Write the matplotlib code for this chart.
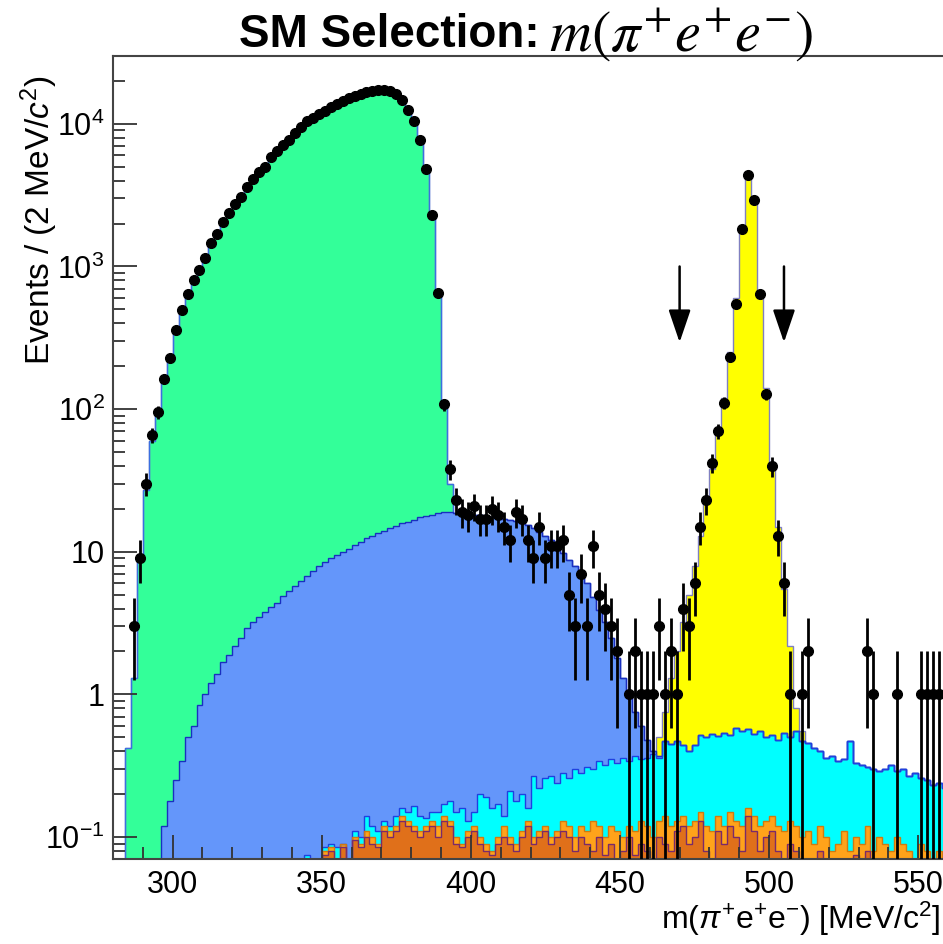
import numpy as np
import matplotlib
matplotlib.use("Agg")
import matplotlib.pyplot as plt
from matplotlib.ticker import MultipleLocator, LogLocator, FixedLocator, FixedFormatter

plt.rcParams['font.family'] = ['Liberation Sans', 'DejaVu Sans']
plt.rcParams['mathtext.fontset'] = 'custom'
plt.rcParams['mathtext.rm'] = 'Liberation Sans'
plt.rcParams['mathtext.it'] = 'Liberation Sans:italic'
plt.rcParams['mathtext.bf'] = 'Liberation Sans:bold'

# 2 MeV bins, 280..560
EDGES = np.arange(280, 562, 2)
CENTERS = EDGES[:-1] + 1

# data counts per bin (281, 283, ..., 559)
counts = [
    0, 0, 0, 3, 9, 30, 66, 95, 163, 230,
    361, 495, 640, 800, 950, 1150, 1455, 1690, 2035, 2390,
    2760, 3070, 3600, 4100, 4580, 4980, 5830, 6470, 7080, 7750,
    8650, 9570, 10400, 11000, 11700, 12400, 13100, 13800, 14500, 15100,
    15700, 16200, 16700, 17100, 17300, 17300, 17000, 16300, 14800, 12500,
    10400, 7700, 4800, 2300, 650, 108, 38, 23, 19, 18,
    21, 17, 17, 20, 18, 15, 12, 19, 17, 12,
    9, 15, 9, 11, 11, 12, 5, 3, 7, 3,
    11, 5, 4, 3, 2, 0, 1, 2, 1, 1,
    1, 3, 1, 2, 1, 4, 3, 6, 15, 23,
    42, 70, 111, 232, 542, 1835, 4400, 2940, 645, 127,
    40, 13, 6, 1, 0, 1, 2, 0, 0, 0,
    0, 0, 0, 0, 0, 0, 2, 1, 0, 0,
    0, 1, 0, 0, 0, 1, 1, 1, 1, 0,
]

# MC stack, cumulative heights (top of each layer)
green_from = 285
green_top = [
    0.42, 1.3, 9, 27, 60, 95, 160, 230,
    360, 490, 640, 800, 950, 1150, 1450, 1700, 2030, 2390,
    2750, 3080, 3600, 4100, 4580, 4990, 5800, 6450, 7100, 7750,
    8650, 9550, 10400, 11000, 11700, 12400, 13100, 13800, 14500, 15100,
    15700, 16200, 16700, 17100, 17300, 17300, 17000, 16300, 14800, 12500,
    10400, 7700, 4800, 2300, 650, 110, 30,
]

blue_from = 297
blue_top = [
    0.12, 0.18, 0.25, 0.34, 0.5, 0.6, 0.84,
    1.0, 1.2, 1.4, 1.7, 1.9, 2.2, 2.5, 2.9, 3.2, 3.5,
    3.8, 4.1, 4.4, 4.9, 5.3, 5.8, 6.2, 6.8, 7.3, 8.0,
    8.5, 9.0, 9.5, 10.0, 10.5, 11.2, 11.8, 12.5, 13.0, 13.5,
    14.0, 14.6, 15.2, 15.8, 16.3, 16.8, 17.4, 17.8, 18.2, 18.6,
    18.9, 19.0, 18.8, 18.6, 18.4, 18.2, 18.0, 17.8, 17.5, 17.2,
    17.0, 16.7, 16.4, 16.0, 15.3, 14.6, 13.8, 12.8, 12.0, 11.0,
    9.8, 8.8, 7.9, 7.0, 6.0, 4.8, 3.9, 3.2, 2.5, 1.8,
    1.3, 1.0, 0.75, 0.6, 0.48, 0.4, 0.37,
]

cyan_from = 345
cyan_top = [
    0.075, 0.0, 0.0, 0.085, 0.09, 0.085, 0.09, 0.0,
    0.11, 0.1, 0.14, 0.12, 0.11, 0.13, 0.12, 0.14, 0.16, 0.15,
    0.165, 0.14, 0.135, 0.15, 0.15, 0.17, 0.18, 0.15, 0.16, 0.13,
    0.15, 0.2, 0.19, 0.16, 0.17, 0.14, 0.21, 0.18, 0.2, 0.16,
    0.27, 0.22, 0.26, 0.27, 0.24, 0.28, 0.26, 0.3, 0.28, 0.31,
    0.3, 0.34, 0.32, 0.35, 0.33, 0.36, 0.34, 0.37, 0.35, 0.36,
    0.38, 0.36, 0.47, 0.45, 0.47, 0.44, 0.4, 0.44, 0.52, 0.5,
    0.53, 0.51, 0.54, 0.52, 0.58, 0.55, 0.57, 0.53, 0.55, 0.5,
    0.52, 0.48, 0.54, 0.5, 0.55, 0.47, 0.46, 0.42, 0.4, 0.36,
    0.37, 0.34, 0.35, 0.47, 0.33, 0.32, 0.31, 0.3, 0.29, 0.3,
    0.32, 0.29, 0.3, 0.27, 0.28, 0.26, 0.25, 0.23, 0.24, 0.22,
]

orange_from = 351
orange_light_top = [
    0.08, 0.085, 0.07, 0.09, 0.0,
    0.1, 0.09, 0.11, 0.1, 0.09, 0.12, 0.11, 0.12, 0.14, 0.13,
    0.12, 0.11, 0.12, 0.13, 0.12, 0.14, 0.13, 0.1, 0.09, 0.11,
    0.12, 0.1, 0.09, 0.08, 0.1, 0.12, 0.1, 0.09, 0.11, 0.13,
    0.1, 0.11, 0.12, 0.1, 0.11, 0.13, 0.12, 0.1, 0.12, 0.11,
    0.13, 0.12, 0.1, 0.12, 0.11, 0.1, 0.12, 0.11, 0.13, 0.12,
    0.1, 0.13, 0.14, 0.12, 0.13, 0.14, 0.12, 0.13, 0.15, 0.12,
    0.11, 0.14, 0.12, 0.15, 0.13, 0.12, 0.16, 0.14, 0.12, 0.13,
    0.14, 0.12, 0.11, 0.13, 0.12, 0.1, 0.11, 0.09, 0.12, 0.1,
    0.08, 0.09, 0.11, 0.08, 0.1, 0.09, 0.12, 0.08, 0.1, 0.09,
    0.08, 0.1, 0.09, 0.08, 0.07, 0.09, 0.08, 0.07, 0.08, 0.07,
]
orange_dark_top = [
    0.075, 0.08, 0.0, 0.085, 0.0,
    0.095, 0.085, 0.1, 0.09, 0.085, 0.11, 0.1, 0.11, 0.13, 0.12,
    0.11, 0.1, 0.11, 0.12, 0.1, 0.13, 0.12, 0.09, 0.085, 0.1,
    0.11, 0.09, 0.08, 0.075, 0.09, 0.1, 0.09, 0.08, 0.1, 0.12,
    0.09, 0.1, 0.11, 0.09, 0.1, 0.11, 0.1, 0.08, 0.1, 0.09,
    0.08, 0.1, 0.075, 0.09, 0.07, 0.08, 0.1, 0.075, 0.09, 0.08,
    0.07, 0.1, 0.09, 0.08, 0.11, 0.12, 0.09, 0.1, 0.13, 0.08,
    0.07, 0.11, 0.09, 0.12, 0.1, 0.08, 0.14, 0.11, 0.08, 0.1,
    0.11, 0.08, 0.07, 0.09, 0.08, 0.0, 0.07, 0.0, 0.08, 0.0,
    0.0, 0.07, 0.0, 0.0, 0.075, 0.0, 0.08, 0.0, 0.07, 0.0,
    0.0, 0.07, 0.0, 0.0, 0.0, 0.0, 0.07, 0.0, 0.0, 0.0,
]

yellow_from = 463
yellow_top = [
    0.5, 0.75, 1.3, 2.0, 3.2, 5.0, 8.0, 13, 22,
    38, 68, 120, 250, 600, 1900, 4300, 2900, 600, 140,
    42, 15, 5.5, 2.2, 0.8, 0.55,
]

CUT_LO, CUT_HI = 470, 505
ARROW_TOP, ARROW_TIP = 1000, 294

FLOOR = 1e-3


def place(vals, first):
    arr = np.zeros(len(CENTERS))
    i = (first - CENTERS[0]) // 2
    arr[i:i + len(vals)] = vals
    return arr


c_dark = place(orange_dark_top, orange_from)
c_light = np.maximum(place(orange_light_top, orange_from), c_dark)
c_cyan = np.maximum(place(cyan_top, cyan_from), c_light)
c_blue = np.maximum(place(blue_top, blue_from), c_cyan)
c_green = np.maximum(place(green_top, green_from), c_blue)
c_total = np.maximum(place(yellow_top, yellow_from), c_green)

layers = [
    (c_total, "#ffff00", "#8080c0"),
    (c_green, "#33ff99", "#3b6fe0"),
    (c_blue, "#6496fa", "#1a2fc0"),
    (c_cyan, "#00ffff", "#2040e0"),
    (c_light, "#ffa31a", "#d07a10"),
    (c_dark, "#e0701a", "#7a2a6a"),
]

fig = plt.figure(figsize=(9.43, 9.44), dpi=100)
ax = fig.add_axes([113 / 943, 1 - 859 / 944, (948 - 113) / 943, (859 - 56) / 944])
ax.set_yscale("log")

for top, fc, lc in layers:
    h = np.where(top > 0, top, FLOOR)
    ax.stairs(h, EDGES, baseline=FLOOR, fill=True, color=fc, lw=0, zorder=1)
    ax.stairs(h, EDGES, baseline=FLOOR, fill=False, color=lc, lw=1.0, zorder=1.1)

n = np.array(counts, dtype=float)
m = n > 0
x, y = CENTERS[m], n[m]
err = np.sqrt(y)
lo = np.where(y - err <= 0, y - FLOOR, err)
ax.errorbar(x, y, yerr=[lo, err], fmt="o", color="black", ms=7, elinewidth=2.0,
            capsize=0, zorder=3)

for xc in (CUT_LO, CUT_HI):
    ax.annotate("", xy=(xc, ARROW_TIP), xytext=(xc, ARROW_TOP),
                arrowprops=dict(arrowstyle="-|>,head_length=1.0,head_width=0.34",
                                mutation_scale=20, color="black", lw=1.8,
                                shrinkA=0, shrinkB=0), zorder=4)

ax.set_xlim(280, 560)
ax.set_ylim(0.0702, 2.99e4)

ax.xaxis.set_major_locator(MultipleLocator(50))
ax.xaxis.set_minor_locator(MultipleLocator(10))
ax.yaxis.set_major_locator(FixedLocator([0.1, 1, 10, 100, 1000, 10000]))
ax.yaxis.set_major_formatter(FixedFormatter([
    r"$\mathdefault{10^{-1}}$", "1", "10",
    r"$\mathdefault{10^{2}}$", r"$\mathdefault{10^{3}}$", r"$\mathdefault{10^{4}}$"]))
ax.yaxis.set_minor_locator(LogLocator(base=10, subs=np.arange(2, 10)))
ax.yaxis.set_minor_formatter(plt.NullFormatter())

ax.tick_params(which="both", direction="in", top=False, right=False, width=1.3,
               color="#333333", labelsize=22)
ax.tick_params(which="major", length=17)
ax.tick_params(which="minor", length=8.5)
ax.tick_params(axis="x", pad=8)
ax.tick_params(axis="y", pad=6)
for side in ("left", "top", "bottom"):
    ax.spines[side].set_linewidth(1.5)
    ax.spines[side].set_color("#444444")
ax.spines["right"].set_visible(False)

fig.text(0.042, 0.92, r"Events / (2 MeV/$\mathit{c}^{2}$)", rotation=90,
         ha="center", va="top", fontsize=24)
fig.text(0.997, 0.006, r"m($\pi^{+}$e$^{+}$e$^{-}$) [MeV/c$^{2}$]",
         ha="right", va="bottom", fontsize=23)

fig.text(0.5726, 0.963, "SM Selection:", ha="right", va="center",
         fontsize=33, fontweight="bold")
fig.text(0.582, 0.963, r"$m(\pi^{+}e^{+}e^{-})$", ha="left", va="center",
         fontsize=42, math_fontfamily="stix")

fig.savefig("out.png", dpi=100)
